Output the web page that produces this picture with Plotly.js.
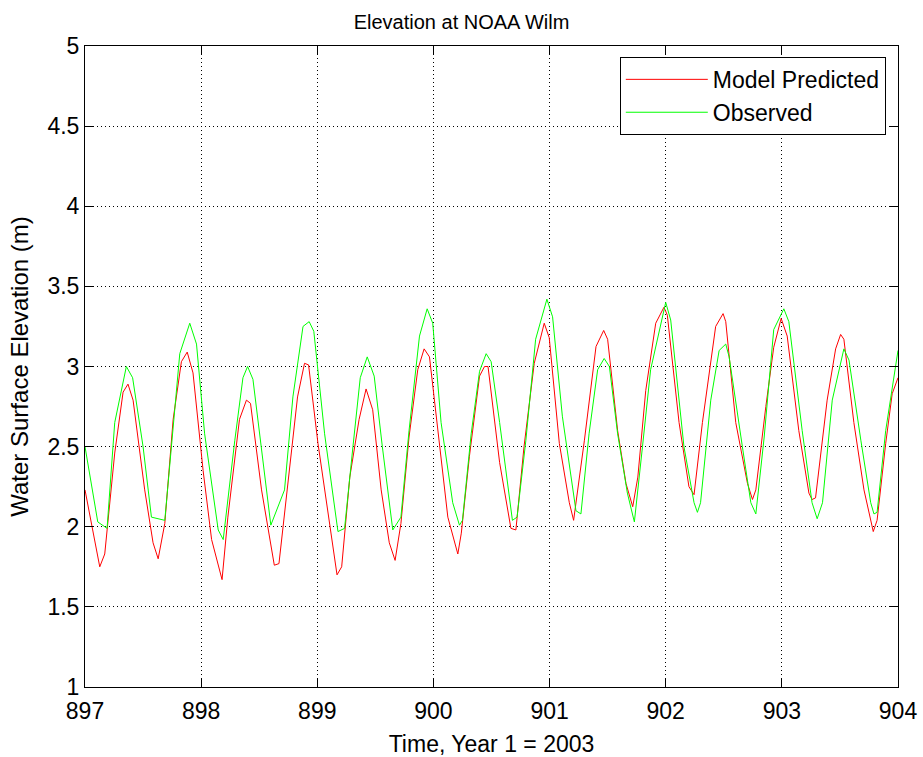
<!DOCTYPE html>
<html>
<head>
<meta charset="utf-8">
<script src="https://cdn.plot.ly/plotly-3.0.1.min.js"></script>
<style>html,body{margin:0;padding:0;background:#fff;}#chart{width:923px;height:757px;}</style>
</head>
<body>
<div id="chart"></div>
<script>
// Model Predicted (red)
var modelTime = [897.0,897.127,897.17,897.256,897.328,897.37,897.414,897.514,897.586,897.63,897.687,897.759,897.83,897.88,897.93,898.017,898.09,898.18,898.23,898.33,898.39,898.425,898.52,898.63,898.67,898.747,898.83,898.89,898.925,899.006,899.106,899.17,899.21,899.28,899.36,899.42,899.477,899.55,899.62,899.67,899.72,899.79,899.865,899.92,899.966,900.037,900.124,900.21,900.24,900.31,900.397,900.44,900.47,900.57,900.667,900.71,900.78,900.868,900.954,900.997,901.084,901.17,901.207,901.3,901.4,901.466,901.5,901.586,901.658,901.716,901.76,901.828,901.914,901.985,902.014,902.115,902.2,902.244,902.316,902.43,902.494,902.517,902.603,902.704,902.747,902.776,902.862,902.93,902.994,903.046,903.146,903.233,903.26,903.29,903.39,903.463,903.506,903.534,903.62,903.707,903.787,903.82,903.894,903.95,904.0];
var modelElev = [2.23,1.75,1.83,2.46,2.84,2.89,2.79,2.23,1.90,1.80,2.02,2.67,3.03,3.09,2.96,2.35,1.92,1.67,2.06,2.67,2.79,2.77,2.23,1.76,1.77,2.27,2.81,3.02,3.01,2.52,2.02,1.70,1.75,2.31,2.67,2.86,2.73,2.23,1.90,1.79,2.02,2.56,2.98,3.11,3.06,2.60,2.06,1.83,1.96,2.44,2.94,3.00,3.00,2.40,1.99,1.98,2.50,3.02,3.27,3.18,2.52,2.15,2.04,2.54,3.125,3.225,3.17,2.60,2.27,2.125,2.31,2.85,3.27,3.37,3.32,2.65,2.25,2.20,2.65,3.25,3.33,3.28,2.65,2.27,2.17,2.23,2.75,3.12,3.30,3.19,2.60,2.21,2.17,2.18,2.79,3.11,3.20,3.17,2.65,2.23,1.97,2.04,2.52,2.83,2.93];
// Observed (green)
var obsTime = [897.0,897.11,897.19,897.256,897.356,897.41,897.5,897.572,897.687,897.753,897.816,897.902,897.96,898.03,898.147,898.19,898.29,898.36,898.40,898.446,898.517,898.60,898.718,898.79,898.877,898.93,898.97,899.063,899.178,899.235,899.307,899.37,899.43,899.49,899.56,899.65,899.72,899.79,899.88,899.946,899.994,900.066,900.166,900.224,900.25,900.325,900.397,900.454,900.497,900.57,900.68,900.72,900.796,900.88,900.977,901.026,901.11,901.227,901.27,901.34,901.414,901.47,901.515,901.586,901.67,901.73,901.80,901.87,902.0,902.043,902.157,902.244,902.273,902.30,902.388,902.46,902.517,902.546,902.66,902.733,902.776,902.848,902.93,903.017,903.06,903.175,903.26,903.304,903.35,903.434,903.534,903.578,903.68,903.765,903.793,903.82,903.894,904.0];
var obsElev = [2.50,2.03,1.99,2.65,3.00,2.93,2.50,2.06,2.04,2.60,3.08,3.27,3.14,2.58,1.98,1.92,2.54,2.93,3.00,2.92,2.50,2.01,2.23,2.81,3.25,3.28,3.22,2.58,1.97,1.99,2.50,2.93,3.06,2.94,2.50,1.98,2.06,2.60,3.19,3.36,3.27,2.65,2.15,2.01,2.04,2.58,2.97,3.08,3.03,2.65,2.04,2.06,2.54,3.17,3.42,3.31,2.69,2.10,2.08,2.58,2.98,3.05,3.00,2.58,2.21,2.03,2.50,2.98,3.40,3.29,2.50,2.15,2.09,2.15,2.79,3.10,3.14,3.06,2.50,2.15,2.08,2.56,3.23,3.36,3.28,2.60,2.15,2.05,2.15,2.79,3.11,3.04,2.54,2.15,2.08,2.09,2.60,3.10];

var seriesNames = ["Model Predicted", "Observed"];
var xTicks = [897, 898, 899, 900, 901, 902, 903, 904];
var yTicks = [1, 1.5, 2, 2.5, 3, 3.5, 4, 4.5, 5];
var yTickText = ["1", "1.5", "2", "2.5", "3", "3.5", "4", "4.5", "5"];

var FONT = "Liberation Sans, Arial, sans-serif";

var traces = [
  {x: modelTime, y: modelElev, name: seriesNames[0], type: "scatter", mode: "lines",
   line: {color: "#ff0000", width: 1}},
  {x: obsTime, y: obsElev, name: seriesNames[1], type: "scatter", mode: "lines",
   line: {color: "#00ff00", width: 1}}
];

var axisCommon = {
  showline: true, linecolor: "#000", linewidth: 1, mirror: "ticks",
  ticks: "inside", ticklen: 8, tickcolor: "#000", tickwidth: 1,
  showgrid: true, gridcolor: "#000", griddash: "1px,3px", gridwidth: 1,
  zeroline: false,
  tickfont: {family: FONT, size: 23, color: "#000"}
};

var layout = {
  width: 923, height: 757,
  margin: {l: 85, r: 25, t: 46, b: 70},
  paper_bgcolor: "#fff", plot_bgcolor: "#fff",
  title: {text: "Elevation at NOAA Wilm", font: {family: FONT, size: 20, color: "#000"},
          x: 0.5, xanchor: "center", y: 0.971, yanchor: "middle"},
  xaxis: Object.assign({}, axisCommon, {
    range: [897, 904], tickvals: xTicks, ticktext: xTicks.map(String),
    ticklabelstandoff: 3,
    title: {text: "Time, Year 1 = 2003", font: {family: FONT, size: 23, color: "#000"}, standoff: 13}
  }),
  yaxis: Object.assign({}, axisCommon, {
    range: [1, 5], tickvals: yTicks, ticktext: yTickText,
    title: {text: "Water Surface Elevation (m)", font: {family: FONT, size: 24, color: "#000"}, standoff: 12}
  }),
  showlegend: true,
  legend: {
    x: 0.985, xanchor: "right", y: 0.983, yanchor: "top",
    bgcolor: "#fff", bordercolor: "#000", borderwidth: 1,
    font: {family: FONT, size: 23, color: "#000"},
    itemwidth: 82, tracegroupgap: 0
  }
};

Plotly.newPlot("chart", traces, layout, {displayModeBar: false, staticPlot: true});
</script>
</body>
</html>
